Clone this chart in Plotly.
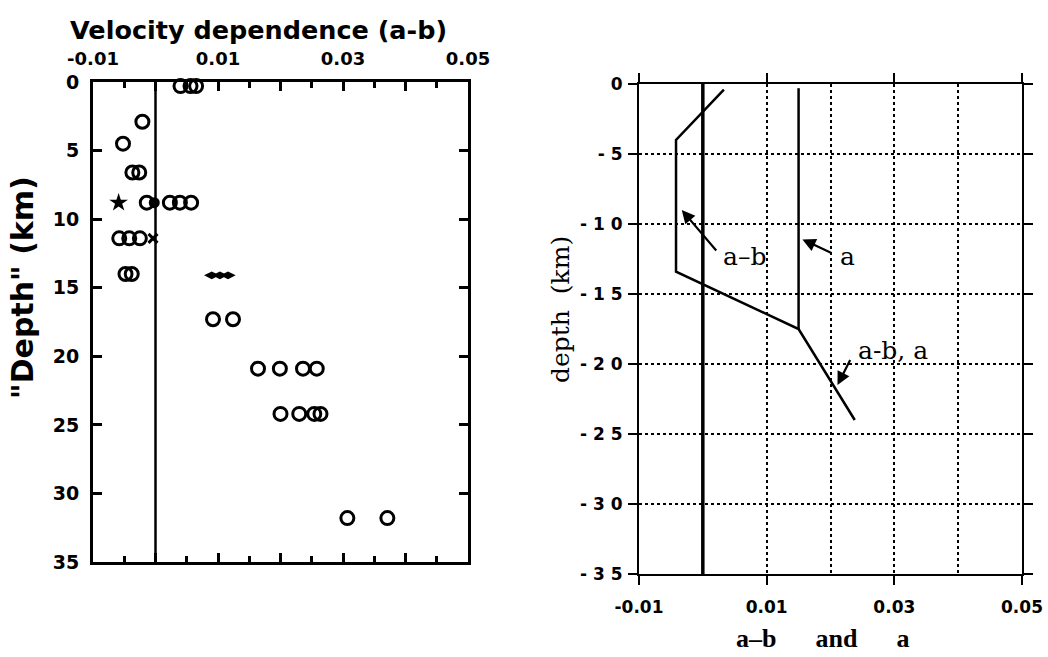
import plotly.graph_objects as go

# ---------------- data: left panel (velocity dependence a-b vs depth) ----------------
circ_ab = [0.0040, 0.0056, 0.0065, -0.0021, -0.0052, -0.0037, -0.0026,
           -0.0014, 0.0023, 0.0039, 0.0057,
           -0.0058, -0.0042, -0.0025,
           -0.0048, -0.0038,
           0.0092, 0.0124,
           0.0164, 0.0199, 0.0236, 0.0258,
           0.0200, 0.0230, 0.0254, 0.0264,
           0.0307, 0.0371]
circ_depth = [0.3, 0.3, 0.3, 2.9, 4.5, 6.6, 6.6,
              8.8, 8.8, 8.8, 8.8,
              11.4, 11.4, 11.4,
              14.0, 14.0,
              17.3, 17.3,
              20.9, 20.9, 20.9, 20.9,
              24.2, 24.2, 24.2, 24.2,
              31.8, 31.8]
filled_ab = [-0.0002]
filled_depth = [8.8]
star_ab = [-0.0059]
star_depth = [8.8]
cross_ab = [-0.0004]
cross_depth = [11.4]
diamond_ab = [0.0090, 0.0103, 0.0116]
diamond_depth = [14.1, 14.1, 14.1]
zero_ab = [0.0, 0.0]
zero_depth_left = [0, 35]

left_xticks = [-0.01, 0.0, 0.01, 0.02, 0.03, 0.04, 0.05]
left_xticktext = ["-0.01", "", "0.01", "", "0.03", "", "0.05"]
left_yticks = [0, 5, 10, 15, 20, 25, 30, 35]

# ---------------- data: right panel (model a-b and a profiles) ----------------
model_ab = [0.0033, -0.0042, -0.0042, 0.0150, 0.0238]
model_ab_depth = [-0.4, -4.0, -13.4, -17.5, -24.0]
model_a = [0.0150, 0.0150]
model_a_depth = [-0.3, -17.5]
zero_depth_right = [0, -35]

right_xticks = [-0.01, 0.01, 0.03, 0.05]
right_xticktext = ["-0.01", "0.01", "0.03", "0.05"]
right_yticks = [0, -5, -10, -15, -20, -25, -30, -35]
right_yticktext = ["0", "- 5", "- 1 0", "- 1 5", "- 2 0", "- 2 5", "- 3 0", "- 3 5"]

W, H = 1048, 657
SANS = "DejaVu Sans"
SERIF = "DejaVu Serif"
TIMES = "Liberation Serif"

fig = go.Figure()

# left panel
fig.add_trace(go.Scatter(x=zero_ab, y=zero_depth_left, mode="lines",
                         line=dict(color="black", width=2.5), xaxis="x", yaxis="y",
                         showlegend=False, hoverinfo="skip"))
fig.add_trace(go.Scatter(x=circ_ab, y=circ_depth, mode="markers",
                         marker=dict(symbol="circle-open", size=13, color="black",
                                     line=dict(width=3, color="black")),
                         xaxis="x", yaxis="y", showlegend=False, cliponaxis=False))
fig.add_trace(go.Scatter(x=filled_ab, y=filled_depth, mode="markers",
                         marker=dict(symbol="circle", size=11, color="black"),
                         xaxis="x", yaxis="y", showlegend=False))
fig.add_trace(go.Scatter(x=star_ab, y=star_depth, mode="markers",
                         marker=dict(symbol="star", size=14, color="black"),
                         xaxis="x", yaxis="y", showlegend=False))
fig.add_trace(go.Scatter(x=cross_ab, y=cross_depth, mode="markers",
                         marker=dict(symbol="x-thin-open", size=9, color="black",
                                     line=dict(width=3, color="black")),
                         xaxis="x", yaxis="y", showlegend=False))
fig.add_trace(go.Scatter(x=diamond_ab, y=diamond_depth, mode="markers",
                         marker=dict(symbol="diamond-wide", size=11, color="black"),
                         xaxis="x", yaxis="y", showlegend=False))

# right panel
fig.add_trace(go.Scatter(x=zero_ab, y=zero_depth_right, mode="lines",
                         line=dict(color="black", width=3.5), xaxis="x2", yaxis="y2",
                         showlegend=False))
fig.add_trace(go.Scatter(x=model_a, y=model_a_depth, mode="lines",
                         line=dict(color="black", width=2.5), xaxis="x2", yaxis="y2",
                         showlegend=False))
fig.add_trace(go.Scatter(x=model_ab, y=model_ab_depth, mode="lines",
                         line=dict(color="black", width=2.5), xaxis="x2", yaxis="y2",
                         showlegend=False))

grid = dict(showgrid=True, gridcolor="black", gridwidth=1.5, griddash="dot")

fig.update_layout(
    width=W, height=H,
    margin=dict(l=0, r=0, t=0, b=0, autoexpand=False),
    paper_bgcolor="white", plot_bgcolor="white",
    showlegend=False,
    xaxis=dict(domain=[93 / W, 468 / W], range=[-0.01, 0.05], side="top", anchor="y",
               automargin=False,
               tickmode="array", tickvals=left_xticks, ticktext=left_xticktext,
               ticks="inside", ticklen=9, tickwidth=2.5, tickcolor="black",
               minor=dict(tickmode="linear", tick0=0, dtick=0.005, ticks="inside",
                          ticklen=6, tickwidth=2.5, tickcolor="black"),
               showline=True, linewidth=3, linecolor="black", mirror="ticks",
               showgrid=False, zeroline=False, ticklabelstandoff=7,
               tickfont=dict(family=SANS, size=18, color="black", weight="bold")),
    yaxis=dict(domain=[1 - 562 / H, 1 - 82 / H], range=[35, 0], anchor="x",
               automargin=False,
               tickmode="array", tickvals=left_yticks,
               ticks="inside", ticklen=9, tickwidth=2.5, tickcolor="black",
               showline=True, linewidth=3, linecolor="black", mirror="ticks",
               showgrid=False, zeroline=False, ticklabelstandoff=7,
               tickfont=dict(family=SANS, size=19, color="black", weight="bold")),
    xaxis2=dict(domain=[639 / W, 1022 / W], range=[-0.01, 0.05], anchor="y2",
                automargin=False,
                tickmode="array", tickvals=right_xticks, ticktext=right_xticktext,
                ticks="outside", ticklen=9, tickwidth=2, tickcolor="black",
                minor=dict(tickmode="linear", tick0=0, dtick=0.01, ticks="", **grid),
                showline=True, linewidth=2, linecolor="black", mirror="ticks",
                zeroline=False, ticklabelstandoff=8, **grid,
                tickfont=dict(family=SANS, size=17, color="black", weight="bold")),
    yaxis2=dict(domain=[1 - 574 / H, 1 - 84 / H], range=[-35, 0], anchor="x2",
                automargin=False,
                tickmode="array", tickvals=right_yticks, ticktext=right_yticktext,
                ticks="outside", ticklen=9, tickwidth=2, tickcolor="black",
                showline=True, linewidth=2, linecolor="black", mirror="ticks",
                zeroline=False, ticklabelstandoff=2, **grid,
                tickfont=dict(family=SANS, size=17, color="black", weight="bold")),
)

centered = dict(xref="paper", yref="paper", xanchor="center", yanchor="middle",
                showarrow=False)
annotations = [
    dict(text="Velocity dependence (a-b)", x=258 / W, y=1 - 30 / H, **centered,
         font=dict(family=SANS, size=25.5, color="black", weight="bold")),
    dict(text='"Depth" (km)', x=22 / W, y=1 - 288 / H, textangle=-90, **centered,
         font=dict(family=SANS, size=30, color="black", weight="bold")),
    dict(text="depth  (km)", x=560 / W, y=1 - 310 / H, textangle=-90, **centered,
         font=dict(family=SERIF, size=25, color="black")),
    dict(text="a\u2013b      and      a", x=822 / W, y=1 - 638 / H, **centered,
         font=dict(family=TIMES, size=26, color="black", weight="bold")),
    # curve labels with arrows
    dict(text="a\u2013b", x=0.0066, y=-12.3, xref="x2", yref="y2", showarrow=False,
         xanchor="center", yanchor="middle",
         font=dict(family=SERIF, size=25, color="black")),
    dict(text="", x=-0.0033, y=-9.0, ax=0.0023, ay=-12.0, axref="x2", ayref="y2",
         xref="x2", yref="y2", showarrow=True, arrowhead=2, arrowsize=1.2,
         arrowwidth=2.2, arrowcolor="black"),
    dict(text="a", x=0.0227, y=-12.3, xref="x2", yref="y2", showarrow=False,
         xanchor="center", yanchor="middle",
         font=dict(family=SERIF, size=25, color="black")),
    dict(text="", x=0.0156, y=-11.1, ax=0.0203, ay=-12.1, axref="x2", ayref="y2",
         xref="x2", yref="y2", showarrow=True, arrowhead=2, arrowsize=1.2,
         arrowwidth=2.2, arrowcolor="black"),
    dict(text="a-b, a", x=0.0298, y=-19.0, xref="x2", yref="y2", showarrow=False,
         xanchor="center", yanchor="middle",
         font=dict(family=SERIF, size=25, color="black")),
    dict(text="", x=0.0211, y=-21.5, ax=0.0232, ay=-19.6, axref="x2", ayref="y2",
         xref="x2", yref="y2", showarrow=True, arrowhead=2, arrowsize=1.2,
         arrowwidth=2.2, arrowcolor="black"),
]
fig.update_layout(annotations=annotations)

fig.write_html("out.html")
